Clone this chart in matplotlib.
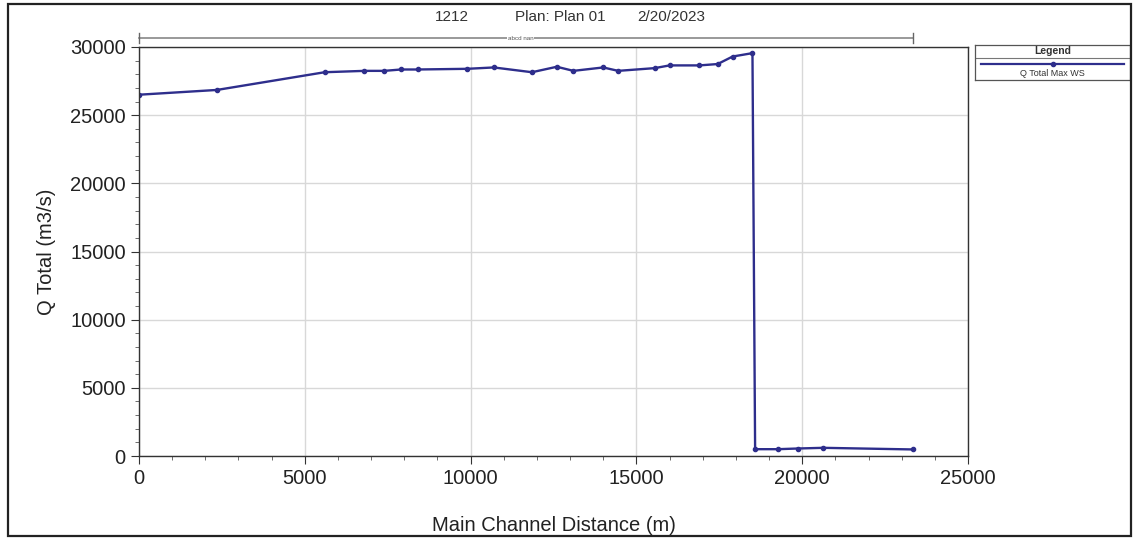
import matplotlib
matplotlib.use("Agg")
import matplotlib.pyplot as plt
from matplotlib.patches import Rectangle
from matplotlib.ticker import MultipleLocator

plt.rcParams['font.family'] = ['Liberation Sans', 'DejaVu Sans']

# Data
distance_m = [0, 2350, 5600, 6800, 7400, 7900, 8400, 9900, 10700, 11850, 12600,
              13100, 14000, 14450, 15550, 16000, 16900, 17450, 17900, 18500,
              18580, 19270, 19870, 20630, 23350]
q_total = [26500, 26850, 28150, 28250, 28250, 28350, 28350, 28400, 28500, 28150,
           28550, 28250, 28500, 28250, 28450, 28650, 28650, 28750, 29300, 29550,
           500, 500, 550, 600, 480]
x_ticks = [0, 5000, 10000, 15000, 20000, 25000]
y_ticks = [0, 5000, 10000, 15000, 20000, 25000, 30000]
title_parts = ["1212", "Plan: Plan 01", "2/20/2023"]
series_name = "Q Total Max WS"
reach_label = "abcd nan"

line_color = "#2e2e8c"

fig = plt.figure(figsize=(11.37, 5.40), dpi=100)
ax = fig.add_axes([139/1137, 1-456/540, (968-139)/1137, (456-47)/540])

ax.plot(distance_m, q_total, color=line_color, lw=1.7, marker='o', ms=3,
        markerfacecolor=line_color, markeredgecolor=line_color)

ax.set_xlim(0, 25000)
ax.set_ylim(0, 30000)
ax.set_xticks(x_ticks)
ax.set_yticks(y_ticks)
ax.xaxis.set_minor_locator(MultipleLocator(1000))
ax.yaxis.set_minor_locator(MultipleLocator(1000))
ax.tick_params(axis='both', which='major', direction='out', length=6, width=0.8,
               labelsize=14.5, colors='#333333', labelcolor='#222222')
ax.tick_params(axis='both', which='minor', direction='out', length=3, width=0.6,
               colors='#555555')
ax.grid(True, which='major', color='#d8d8d8', lw=1.0)
ax.set_axisbelow(True)
for s in ax.spines.values():
    s.set_color('#333333')
    s.set_linewidth(1.0)

ax.set_xlabel("Main Channel Distance (m)", fontsize=14.5, color='#222222', labelpad=20)
ax.set_ylabel("Q Total (m3/s)", fontsize=14.5, color='#222222', labelpad=10)

# Title (three parts, as in the reference)
for txt, xc in zip(title_parts, [452, 560, 671]):
    fig.text(xc/1137, 1-17/540, txt, ha='center', va='center', fontsize=11,
             color='#333333')

# Reach line on top
x0 = distance_m[0]
x1 = distance_m[-1]
trans = ax.get_xaxis_transform()
y_reach = 1 + 9/409
ax.plot([x0, x1], [y_reach, y_reach], color='#888888', lw=1.2, transform=trans,
        clip_on=False)
for xv in (x0, x1):
    ax.plot([xv, xv], [y_reach - 0.012, y_reach + 0.012], color='#666666', lw=1.0,
            transform=trans, clip_on=False)
ax.text(11500, y_reach, reach_label, fontsize=4.5, ha='center',
        va='center', color='#555555', transform=trans,
        bbox=dict(facecolor='white', edgecolor='none', pad=0.5))

# Legend box
lax = fig.add_axes([975/1137, 1-80/540, 155/1137, 35/540])
lax.set_xlim(0, 1)
lax.set_ylim(0, 1)
lax.set_xticks([])
lax.set_yticks([])
for s in lax.spines.values():
    s.set_color('#555555')
    s.set_linewidth(0.9)
lax.axhline(0.64, color='#777777', lw=0.8)
lax.text(0.5, 0.82, "Legend", ha='center', va='center', fontsize=7.5,
         fontweight='bold', color='#333333')
lax.plot([0.04, 0.96], [0.46, 0.46], color=line_color, lw=1.6)
lax.plot([0.5], [0.46], marker='o', ms=3, color=line_color)
lax.text(0.5, 0.18, series_name, ha='center', va='center', fontsize=6.5,
         color='#333333')

# Outer frame
fig.patches.append(Rectangle((8/1137, 4/540), 1123/1137, 532/540,
                             transform=fig.transFigure, fill=False,
                             edgecolor='#222222', lw=1.6))

fig.savefig("out.png", dpi=100)
